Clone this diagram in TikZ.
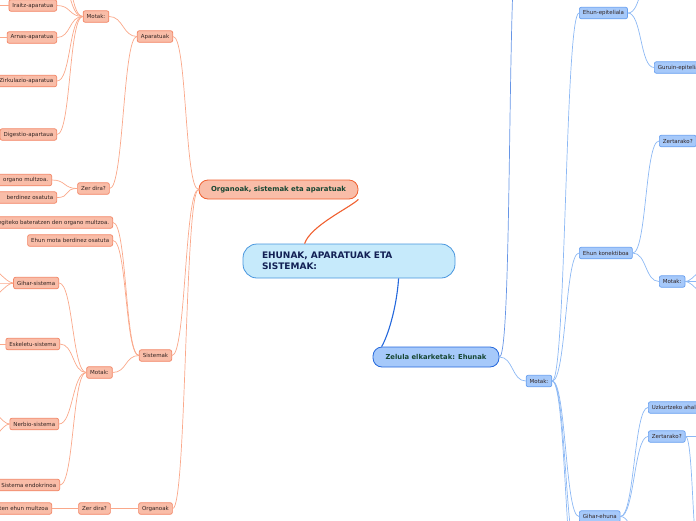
\documentclass[tikz,border=0pt]{standalone}
\usepackage{fontspec}
\setmainfont{DejaVu Sans}
\usepackage{xcolor}
\usepackage{tikz}
\definecolor{orfill}{RGB}{249, 189, 168}
\definecolor{ordraw}{RGB}{242, 132, 100}
\definecolor{orlink}{RGB}{250, 168, 138}
\definecolor{ormain}{RGB}{240, 96, 48}
\definecolor{blfill}{RGB}{166, 201, 250}
\definecolor{bldraw}{RGB}{104, 160, 240}
\definecolor{bllink}{RGB}{140, 184, 244}
\definecolor{blmain}{RGB}{36, 104, 220}
\definecolor{rootfill}{RGB}{198, 234, 251}
\definecolor{rootdraw}{RGB}{72, 150, 222}
\definecolor{leaftext}{RGB}{50, 36, 34}
\definecolor{midtext}{RGB}{22, 70, 50}
\definecolor{roottext}{RGB}{18, 32, 84}
\tikzset{
  leaf/.style={rounded corners=2pt, line width=0.7pt, inner xsep=3.5pt, inner ysep=0pt,
    minimum height=11.5pt, text=leaftext, font=\fontsize{5.5}{6}\selectfont},
  orleaf/.style={leaf, draw=ordraw, fill=orfill},
  blleaf/.style={leaf, draw=bldraw, fill=blfill},
  orlk/.style={draw=orlink, line width=0.7pt},
  bllk/.style={draw=bllink, line width=0.7pt},
  toleft/.style={out=180, in=0, distance=14pt},
  toright/.style={out=0, in=180, distance=14pt}
}

\begin{document}
\begin{tikzpicture}[x=1pt, y=-1pt]
	\useasboundingbox (0,0) rectangle (696,520);
	\clip (0,0) rectangle (696,520);

	% --- Main topics ---
	\node[draw=rootdraw, fill=rootfill, line width=0.8pt, rounded corners=14pt,
		minimum width=212pt, minimum height=34pt, text width=174pt, align=left,
		text=roottext, font=\bfseries\fontsize{9}{11}\selectfont] (root) at (349,261)
		{EHUNAK, APARATUAK ETA\\SISTEMAK:};
	\node[draw=ormain, fill=orfill, line width=0.8pt, rounded corners=9pt,
		minimum width=159pt, minimum height=19pt, text=midtext,
		font=\bfseries\fontsize{6.9}{8}\selectfont] (orgsis) at (278.5,189.5)
		{Organoak, sistemak eta aparatuak};
	\node[draw=blmain, fill=blfill, line width=0.8pt, rounded corners=9pt,
		minimum width=126pt, minimum height=20pt, text=midtext,
		font=\bfseries\fontsize{6.8}{8}\selectfont] (zelula) at (436,357)
		{Zelula elkarketak: Ehunak};

	\draw[ormain, line width=1.1pt] (root.north west) ++(62,0)
		.. controls +(6,-18) and +(-8,8) .. (orgsis.south east) ++(-20,0);
	\draw[blmain, line width=1.1pt] (root.south west) ++(156,0)
		.. controls +(-2,30) and +(6,-10) .. ([xshift=9pt]zelula.north west);

	% --- Orange side: level 2 ---
	\node[orleaf] (aparatuak) at (155,36.5) {Aparatuak};
	\node[orleaf] (sistemak) at (155.5,355.5) {Sistemak};
	\node[orleaf] (organoak) at (155.5,508.5) {Organoak};

	\draw[orlk] (orgsis.west) to[toleft] (aparatuak.east);
	\draw[orlk] (orgsis.west) to[toleft] (sistemak.east);
	\draw[orlk] (orgsis.west) to[toleft] (organoak.east);

	% --- Aparatuak ---
	\node[orleaf] (apmotak) at (96,16.5) {Motak:};
	\node[orleaf] (apzer) at (93.5,188.5) {Zer dira?};
	\node[orleaf, anchor=east] (iraitz) at (57,5.5) {Iraitz-aparatua};
	\node[orleaf, anchor=east] (arnas) at (57,37.5) {Arnas-aparatua};
	\node[orleaf, anchor=east] (zirk) at (57,81) {Zirkulazio-aparatua};
	\node[orleaf, anchor=east] (digest) at (57,134.5) {Digestio-apartaua};
	\node[orleaf, anchor=east, text width=70pt, align=right] (apdefa) at (52,180) {organo multzoa.};
	\node[orleaf, anchor=east, text width=70pt, align=right] (apdefb) at (57,197.5) {berdinez osatuta};
	\coordinate (aphidea) at (57,-22);
	\coordinate (aphideb) at (57,-50);
	\coordinate (iraitzout) at (-14,5.5);
	\coordinate (arnasout) at (-14,37.5);

	\draw[orlk] (aparatuak.west) to[toleft] (apmotak.east);
	\draw[orlk] (aparatuak.west) to[toleft] (apzer.east);
	\foreach \kid in {iraitz, arnas, zirk, digest, aphidea, aphideb}
		\draw[orlk] (apmotak.west) to[toleft] (\kid.east);
	\draw[orlk] (apzer.west) to[toleft] (apdefa.east);
	\draw[orlk] (apzer.west) to[toleft] (apdefb.east);
	\draw[orlk] (iraitz.west) -- (iraitzout);
	\draw[orlk] (arnas.west) -- (arnasout);

	% --- Sistemak ---
	\node[orleaf, anchor=east, text width=120pt, align=right] (sisdef) at (113,222.5)
		{egiteko bateratzen den organo multzoa.};
	\node[orleaf, anchor=east] (sisehun) at (113,240.5) {Ehun mota berdinez osatuta};
	\node[orleaf] (sismotak) at (99.5,372.5) {Motak:};
	\node[orleaf, anchor=east] (gihar) at (59,283) {Gihar-sistema};
	\node[orleaf, anchor=east] (eskel) at (60,344) {Eskeletu-sistema};
	\node[orleaf, anchor=east] (nerbio) at (59,424) {Nerbio-sistema};
	\node[orleaf, anchor=east] (endok) at (60,485) {Sistema endokrinoa};
	\coordinate (giharup) at (-16,262);
	\coordinate (giharmid) at (-16,283);
	\coordinate (ghardown) at (-16,304);
	\coordinate (eskelout) at (-16,344);
	\coordinate (nerbioup) at (-16,404);
	\coordinate (nerbiodown) at (-16,446);

	\draw[orlk] (sistemak.west) to[toleft] (sisdef.east);
	\draw[orlk] (sistemak.west) to[toleft] (sisehun.east);
	\draw[orlk] (sistemak.west) to[toleft] (sismotak.east);
	\foreach \kid in {gihar, eskel, nerbio, endok}
		\draw[orlk] (sismotak.west) to[toleft] (\kid.east);
	\foreach \kid in {giharup, giharmid, ghardown}
		\draw[orlk] (gihar.west) to[out=180, in=0, distance=8pt] (\kid);
	\draw[orlk] (eskel.west) -- (eskelout);
	\draw[orlk] (nerbio.west) to[out=180, in=0, distance=8pt] (nerbioup);
	\draw[orlk] (nerbio.west) to[out=180, in=0, distance=8pt] (nerbiodown);

	% --- Organoak ---
	\node[orleaf] (orzer) at (94.5,508.5) {Zer dira?};
	\node[orleaf, anchor=east, text width=70pt, align=right] (ordef) at (52,508.5) {ten ehun multzoa};

	\draw[orlk] (organoak) -- (orzer);
	\draw[orlk] (orzer) -- (ordef);

	% --- Blue side: level 2 ---
	\node[blleaf] (blmotak) at (539,381) {Motak:};
	\coordinate (zelhidea) at (520,-80);

	\draw[bllk, draw=blmain!70] (zelula.east) to[toright] (zelhidea);
	\draw[bllk] (zelula.east) to[toright] (blmotak.west);

	% --- Ehun motak ---
	\node[blleaf, anchor=west] (epit) at (579,13) {Ehun-epiteliala};
	\node[blleaf, anchor=west] (konek) at (579,253) {Ehun konektiboa};
	\node[blleaf, anchor=west] (gihehun) at (579,516.5) {Gihar-ehuna};
	\coordinate (blhidea) at (579,560);
	\coordinate (blhideb) at (579,600);

	\foreach \kid in {epit, konek, gihehun}
		\draw[bllk] (blmotak.east) to[toright] (\kid.west);
	\draw[bllk] (blmotak.east) to[toright] (blhidea);
	\draw[bllk] (blmotak.east) to[toright] (blhideb);

	% --- Ehun-epiteliala ---
	\node[blleaf, anchor=west] (guruin) at (654,67.5) {Guruin-epiteliala};
	\coordinate (epithidea) at (654,-30);

	\draw[bllk] (epit.east) to[toright] (guruin.west);
	\draw[bllk] (epit.east) to[toright] (epithidea);

	% --- Ehun konektiboa ---
	\node[blleaf, anchor=west] (konzer) at (659,141) {Zertarako?};
	\node[blleaf, anchor=west] (konmotak) at (659,281.5) {Motak:};
	\coordinate (konkida) at (712,262);
	\coordinate (konkidb) at (712,281.5);
	\coordinate (konkidc) at (712,301);

	\draw[bllk] (konek.east) to[toright] (konzer.west);
	\draw[bllk] (konek.east) to[toright] (konmotak.west);
	\foreach \kid in {konkida, konkidb, konkidc}
		\draw[bllk] (konmotak.east) to[out=0, in=180, distance=8pt] (\kid);

	% --- Gihar-ehuna ---
	\node[blleaf, anchor=west] (uzkur) at (648,407.5) {Uzkurtzeko ahalmena};
	\node[blleaf, anchor=west] (gihzer) at (648,436.5) {Zertarako?};
	\coordinate (gihkid) at (648,560);
	\coordinate (zerkida) at (712,436.5);
	\coordinate (zerkidb) at (700,560);

	\draw[bllk] (gihehun.east) to[toright] (uzkur.west);
	\draw[bllk] (gihehun.east) to[toright] (gihzer.west);
	\draw[bllk] (gihehun.east) to[toright] (gihkid);
	\draw[bllk] (gihzer.east) -- (zerkida);
	\draw[bllk] (gihzer.east) to[out=0, in=180, distance=8pt] (zerkidb);
\end{tikzpicture}
\end{document}
